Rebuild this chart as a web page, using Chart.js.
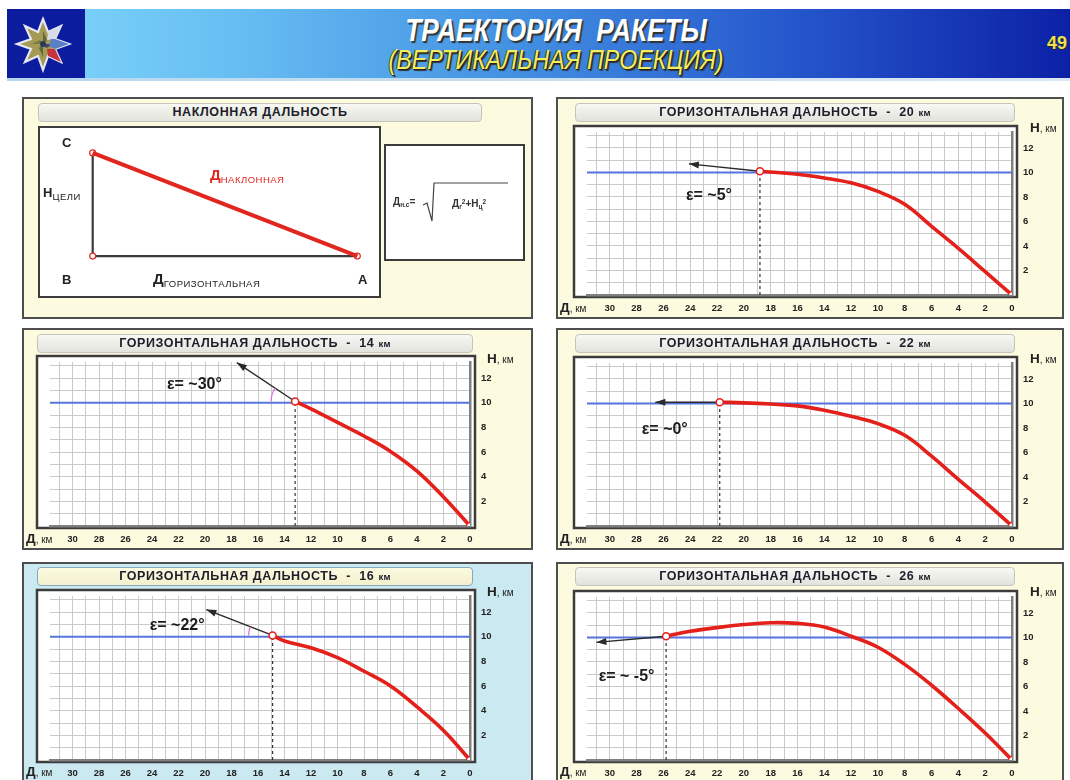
<!DOCTYPE html>
<html lang="ru">
<head>
<meta charset="utf-8">
<title>Траектория ракеты</title>
<script src="https://cdn.jsdelivr.net/npm/chart.js@4.4.1/dist/chart.umd.min.js"></script>
<style>
  body { margin: 0; background: #fff; font-family: 'Liberation Sans', Arial, sans-serif; }
  #page { position: relative; width: 1070px; height: 780px; overflow: hidden; background: #fff; }
  .abs { position: absolute; }
  #hdr { left: 7px; top: 9px; width: 1063px; height: 69px;
         background: linear-gradient(90deg, #80d8fb 0%, #66bdf2 22%, #4390e2 48%, #2556cc 74%, #0c21a6 100%); }
  #emb { left: 7px; top: 9px; width: 78px; height: 69px; background: #0b1d9e; }
  #hline { left: 7px; top: 78px; width: 1063px; height: 3px; background: linear-gradient(90deg, #b6d6ee, #dbe7f2); }
  .t1 { left: 0; width: 1112px; top: 12px; text-align: center; color: #fff; font-weight: bold; font-style: italic;
        font-size: 32px; line-height: 36px; text-shadow: 2px 2px 1px #333; transform: scaleX(0.82); transform-origin: 556px 0; }
  .t2 { left: 0; width: 1112px; top: 44px; text-align: center; color: #f4ee5c; font-style: italic;
        font-size: 27px; line-height: 32px; text-shadow: 1px 1px 0 #222, 2px 2px 1px #333, -1px 0 0 #444;
        transform: scaleX(0.86); transform-origin: 556px 0; }
  .num { left: 1040px; top: 33px; width: 27px; text-align: right; color: #f0e24a; font-weight: bold; font-size: 18px;
         text-shadow: 1px 1px 0 #222; }
  .panel { position: absolute; box-sizing: border-box; border: 2px solid #4e4e4e; background: #fdfbdf; }
  .panel.blue { background: #cbe9f0; }
  .panel canvas { position: absolute; left: 0; top: 0; }
  .ttl { position: absolute; height: 19px; box-sizing: border-box; border: 1px solid #c4c4bc; border-radius: 4px;
         background: linear-gradient(#f8f8f4, #e3e3dd); font-weight: bold; font-size: 12.5px; letter-spacing: 0.6px;
         line-height: 17px; text-align: center; color: #1d1d2b; white-space: nowrap; }
  .blue .ttl { background: linear-gradient(#fcfae0, #f3f0cc); border-color: #86a8c0; }
  .ttl small { font-size: 9.5px; letter-spacing: 0.3px; }
  .ax { position: absolute; font-size: 10px; color: #222; white-space: nowrap; line-height: 14px; }
  .ax b { font-size: 13.5px; }
  .box { position: absolute; box-sizing: border-box; border: 2px solid #3c3c3c; background: #fff; }
  .lbl { position: absolute; font-weight: bold; font-size: 13px; color: #222; white-space: nowrap; line-height: 14px; }
  .lbl sub { font-size: 9.5px; letter-spacing: 0.5px; font-weight: normal; vertical-align: -3px; }
  .fml { position: absolute; font-size: 10px; font-weight: bold; color: #333; white-space: nowrap; line-height: 10px; }
  .fml sub { font-size: 6.5px; vertical-align: -2px; }
  .fml sup { font-size: 6.5px; vertical-align: 3px; }
</style>
</head>
<body>
<div id="page">
  <div id="hdr" class="abs"></div>
  <div id="emb" class="abs">
    <svg width="78" height="69" viewBox="0 0 78 69">
      <polygon points="36,10 41,23 54,17 48,30 62,35 48,40 54,53 41,47 36,61 31,47 18,53 24,40 10,35 24,30 18,17 31,23"
               fill="#a49a55" stroke="#e4e6f0" stroke-width="2.2"/>
      <polygon points="36,22 40,31 36,35" fill="#5f6a3a"/>
      <polygon points="36,48 32,39 36,35" fill="#5f6a3a"/>
      <polygon points="24,35 33,31 36,35" fill="#7d7a45"/>
      <polygon points="48,35 39,39 36,35" fill="#3f4a6a"/>
      <polygon points="41,23 54,17 48,30 40,31" fill="#d8dce6"/>
      <polygon points="44,30 48,30 62,35 48,40 42,37" fill="#5b7fc4"/>
      <polygon points="48,40 54,53 41,47 40,40" fill="#c8323a"/>
      <circle cx="36" cy="35" r="3" fill="#2c3a5a"/>
    </svg>
  </div>
  <div id="hline" class="abs"></div>
  <div class="abs t1">ТРАЕКТОРИЯ&nbsp; РАКЕТЫ</div>
  <div class="abs t2">(ВЕРТИКАЛЬНАЯ ПРОЕКЦИЯ)</div>
  <div class="abs num">49</div>

  <!-- наклонная дальность -->
  <div class="panel" style="left:22px;top:97px;width:511px;height:222px;">
    <div class="ttl" style="left:14px;top:4px;width:444px;">НАКЛОННАЯ ДАЛЬНОСТЬ</div>
    <div class="box" style="left:14px;top:27px;width:343px;height:172px;">
      <canvas id="cTri" width="339" height="168"></canvas>
    </div>
    <div class="lbl" style="left:38px;top:37px;">C</div>
    <div class="lbl" style="left:38px;top:174px;">B</div>
    <div class="lbl" style="left:334px;top:174px;">A</div>
    <div class="lbl" style="left:19px;top:87px;">H<sub>ЦЕЛИ</sub></div>
    <div class="lbl" style="left:186px;top:69px;color:#e0261e;font-size:15px;">Д<sub style="color:#e0261e;">НАКЛОННАЯ</sub></div>
    <div class="lbl" style="left:129px;top:173px;font-size:15px;">Д<sub>ГОРИЗОНТАЛЬНАЯ</sub></div>
    <div class="box" style="left:360px;top:45px;width:141px;height:117px;">
      <div class="fml" style="left:7px;top:51px;">Д<sub>н.с</sub>=</div>
      <svg class="abs" style="left:0;top:0;" width="137" height="113">
        <polyline points="37,59 41,57 46,75 48,37 122,37" fill="none" stroke="#444" stroke-width="1.2"/>
      </svg>
      <div class="fml" style="left:66px;top:51px;">Д<sub>г</sub><sup>2</sup>+Н<sub>ц</sub><sup>2</sup></div>
    </div>
  </div>

  <div class="panel" style="left:556px;top:97px;width:508px;height:222px;">
    <canvas id="c20" width="504" height="218"></canvas>
    <div class="ttl" style="left:17px;top:4px;width:440px;">ГОРИЗОНТАЛЬНАЯ ДАЛЬНОСТЬ &nbsp;-&nbsp; 20 <small>км</small></div>
    <div class="ax" style="left:472px;top:22px;"><b>H</b>, км</div>
    <div class="ax" style="left:2px;top:202px;"><b>Д</b>, км</div>
  </div>

  <div class="panel" style="left:22px;top:328px;width:511px;height:222px;">
    <canvas id="c14" width="507" height="218"></canvas>
    <div class="ttl" style="left:13px;top:4px;width:436px;">ГОРИЗОНТАЛЬНАЯ ДАЛЬНОСТЬ &nbsp;-&nbsp; 14 <small>км</small></div>
    <div class="ax" style="left:463px;top:22px;"><b>H</b>, км</div>
    <div class="ax" style="left:2px;top:202px;"><b>Д</b>, км</div>
  </div>

  <div class="panel" style="left:556px;top:328px;width:508px;height:222px;">
    <canvas id="c22" width="504" height="218"></canvas>
    <div class="ttl" style="left:17px;top:4px;width:440px;">ГОРИЗОНТАЛЬНАЯ ДАЛЬНОСТЬ &nbsp;-&nbsp; 22 <small>км</small></div>
    <div class="ax" style="left:472px;top:22px;"><b>H</b>, км</div>
    <div class="ax" style="left:2px;top:202px;"><b>Д</b>, км</div>
  </div>

  <div class="panel blue" style="left:22px;top:562px;width:511px;height:222px;">
    <canvas id="c16" width="507" height="218"></canvas>
    <div class="ttl" style="left:13px;top:3px;width:436px;">ГОРИЗОНТАЛЬНАЯ ДАЛЬНОСТЬ &nbsp;-&nbsp; 16 <small>км</small></div>
    <div class="ax" style="left:463px;top:21px;"><b>H</b>, км</div>
    <div class="ax" style="left:2px;top:201px;"><b>Д</b>, км</div>
  </div>

  <div class="panel" style="left:556px;top:562px;width:508px;height:222px;">
    <canvas id="c26" width="504" height="218"></canvas>
    <div class="ttl" style="left:17px;top:3px;width:440px;">ГОРИЗОНТАЛЬНАЯ ДАЛЬНОСТЬ &nbsp;-&nbsp; 26 <small>км</small></div>
    <div class="ax" style="left:472px;top:21px;"><b>H</b>, км</div>
    <div class="ax" style="left:2px;top:201px;"><b>Д</b>, км</div>
  </div>
</div>

<script>
// подписи осей
const xTickLabels = [30, 28, 26, 24, 22, 20, 18, 16, 14, 12, 10, 8, 6, 4, 2, 0];
const yTickLabels = [2, 4, 6, 8, 10, 12];
const targetHeight = 10;   // высота цели, км

// треугольник: C, B, A
const vertexX = [0, 0, 1];
const vertexY = [1, 0, 0];

// траектории: дальность (км) и высота (км)
const dist20 = [18.8, 16, 14, 12, 10, 8, 6, 4, 2, 0];
const height20 = [10.1, 9.85, 9.55, 9.15, 8.45, 7.4, 5.6, 3.8, 1.9, 0];
const arrow20 = [24.1, 10.7];
const note20 = [22.6, 8.1];

const dist14 = [13.2, 12, 10, 8, 6, 4, 2, 0];
const height14 = [10.1, 9.5, 8.4, 7.3, 6.05, 4.45, 2.35, 0];
const arrow14 = [17.6, 13.25];
const note14 = [20.8, 11.45];

const dist22 = [21.8, 20, 18, 16, 14, 12, 10, 8, 6, 4, 2, 0];
const height22 = [10.1, 10.05, 9.95, 9.8, 9.45, 8.95, 8.35, 7.4, 5.7, 3.8, 1.95, 0];
const arrow22 = [26.6, 10.1];
const note22 = [25.9, 7.9];

const dist16 = [14.9, 14, 12, 10, 8, 6, 4, 2, 0];
const height16 = [10.1, 9.65, 9.1, 8.3, 7.2, 6.0, 4.3, 2.4, 0];
const arrow16 = [19.9, 12.2];
const note16 = [22.1, 10.9];

const dist26 = [25.8, 24, 22, 20, 18, 16, 14, 12, 10, 8, 6, 4, 2, 0];
const height26 = [10.1, 10.5, 10.8, 11.05, 11.2, 11.15, 10.85, 10.1, 9.2, 7.8, 6.1, 4.2, 2.2, 0];
const arrow26 = [31.0, 9.6];
const note26 = [28.75, 6.8];

const xMax = 31.7;
const yMax = 13.3;
const FONT = "'Liberation Sans', Arial, sans-serif";

const leftGeo = { w: 511, h: 222, gridL: 28, gridR: 448, gridT: 34, gridB: 198 };
const rightGeo = { w: 508, h: 222, gridL: 31, gridR: 456, gridT: 35, gridB: 198 };

// рамка вокруг сетки
const framePlugin = {
    id: 'frame',
    beforeDraw(chart) {
        const { ctx, chartArea: a } = chart;
        const l = a.left - 13, t = a.top - 6, r = a.right + 5, b = a.bottom + 2;
        ctx.save();
        ctx.fillStyle = '#fff';
        ctx.fillRect(l, t, r - l, b - t);
        ctx.lineWidth = 2.5;
        ctx.strokeStyle = '#3c3c3c';
        ctx.strokeRect(l, t, r - l, b - t);
        ctx.restore();
    }
};

// стрелка, угол и подпись
const notePlugin = {
    id: 'note',
    afterDatasetsDraw(chart, args, o) {
        const { ctx, scales } = chart;
        const px = v => scales.x.getPixelForValue(v);
        const py = v => scales.y.getPixelForValue(v);
        const x0 = px(o.start[0]), y0 = py(o.start[1]);
        const x1 = px(o.arrow[0]), y1 = py(o.arrow[1]);
        const ang = Math.atan2(y1 - y0, x1 - x0);
        ctx.save();
        ctx.fillStyle = '#2a2a2a';
        ctx.beginPath();
        ctx.moveTo(x1, y1);
        ctx.lineTo(x1 - 10 * Math.cos(ang) + 3.5 * Math.sin(ang), y1 - 10 * Math.sin(ang) - 3.5 * Math.cos(ang));
        ctx.lineTo(x1 - 10 * Math.cos(ang) - 3.5 * Math.sin(ang), y1 - 10 * Math.sin(ang) + 3.5 * Math.cos(ang));
        ctx.closePath();
        ctx.fill();
        if (o.arc) {
            ctx.strokeStyle = '#e070e0';
            ctx.lineWidth = 1.2;
            ctx.beginPath();
            ctx.arc(x0, y0, 24, -Math.PI, ang);
            ctx.stroke();
        }
        ctx.font = 'bold 16px ' + FONT;
        ctx.fillStyle = '#1c1c1c';
        ctx.textAlign = 'center';
        ctx.textBaseline = 'middle';
        ctx.fillText(o.text, px(o.note[0]), py(o.note[1]));
        ctx.restore();
    }
};

// сетка только по целым километрам
const gridColor = c => (c.tick && Number.isInteger(c.tick.value)) ? '#cacaca' : 'rgba(0,0,0,0)';

function trajectoryChart(id, geo, dist, height, arrow, note, text, arc) {
    const n = dist.length;
    const start = { x: dist[0], y: height[0] };
    const grid = { color: gridColor, lineWidth: 1, drawTicks: false };
    const border = { color: '#808080', width: 2.5 };
    const tickFont = { family: FONT, size: 9.5, weight: 'bold' };
    new Chart(document.getElementById(id), {
        type: 'line',
        data: {
            datasets: [{
                data: dist.map((d, i) => ({ x: d, y: height[i] })),
                borderColor: '#e4201a',
                borderWidth: 3.6,
                tension: 0.4,
                pointRadius: dist.map((d, i) => (i === 0 || i === n - 1) ? 3.5 : 0),
                pointBackgroundColor: '#fff',
                pointBorderColor: '#e4201a',
                pointBorderWidth: 1.5
            }, {
                data: [start, { x: arrow[0], y: arrow[1] }],
                borderColor: '#2a2a2a',
                borderWidth: 1.4,
                pointRadius: 0
            }, {
                data: [{ x: start.x, y: 0 }, start],
                borderColor: '#333',
                borderWidth: 1.2,
                borderDash: [3, 3],
                pointRadius: 0
            }, {
                data: [{ x: 0, y: targetHeight }, { x: xMax, y: targetHeight }],
                borderColor: '#5675dc',
                borderWidth: 2,
                pointRadius: 0
            }]
        },
        options: {
            responsive: false,
            animation: false,
            layout: { padding: { left: geo.gridL - 2, top: geo.gridT - 2, right: 0, bottom: 0 } },
            plugins: {
                legend: { display: false },
                tooltip: { enabled: false },
                note: { start: [start.x, start.y], arrow: arrow, note: note, text: text, arc: arc }
            },
            scales: {
                x: {
                    type: 'linear', reverse: true, min: 0, max: xMax,
                    afterFit: s => { s.height = geo.h - 2 - geo.gridB; },
                    grid: grid, border: border,
                    ticks: {
                        stepSize: 1, autoSkip: false, includeBounds: false, maxRotation: 0, padding: 8,
                        color: '#222', font: tickFont,
                        callback: v => xTickLabels.includes(v) ? v : ''
                    }
                },
                y: {
                    type: 'linear', position: 'right', min: 0, max: yMax,
                    afterFit: s => { s.width = geo.w - 2 - geo.gridR; },
                    grid: grid, border: border,
                    ticks: {
                        stepSize: 1, autoSkip: false, includeBounds: false, padding: 11,
                        color: '#222', font: tickFont,
                        callback: v => yTickLabels.includes(v) ? v : ''
                    }
                }
            }
        },
        plugins: [framePlugin, notePlugin]
    });
}

document.addEventListener('DOMContentLoaded', function() {
    // Треугольник наклонной дальности
    const pts = vertexX.map((x, i) => ({ x: x, y: vertexY[i] }));
    new Chart(document.getElementById('cTri'), {
        type: 'scatter',
        data: {
            datasets: [{
                data: [pts[0], pts[2]],
                showLine: true,
                borderColor: '#e0261e',
                borderWidth: 4,
                pointRadius: 0
            }, {
                data: pts,
                showLine: true,
                borderColor: '#3a3a3a',
                borderWidth: 2.2,
                pointRadius: 3,
                pointBackgroundColor: '#fff',
                pointBorderColor: '#e0261e',
                pointBorderWidth: 1.2
            }]
        },
        options: {
            responsive: false,
            animation: false,
            layout: { padding: 0 },
            plugins: { legend: { display: false }, tooltip: { enabled: false } },
            scales: {
                x: { display: false, min: -0.1795, max: 1.0623 },
                y: { display: false, min: -0.3364, max: 1.1909 }
            }
        }
    });

    trajectoryChart('c20', rightGeo, dist20, height20, arrow20, note20, 'ε= ~5°', false);
    trajectoryChart('c14', leftGeo, dist14, height14, arrow14, note14, 'ε= ~30°', true);
    trajectoryChart('c22', rightGeo, dist22, height22, arrow22, note22, 'ε= ~0°', false);
    trajectoryChart('c16', leftGeo, dist16, height16, arrow16, note16, 'ε= ~22°', true);
    trajectoryChart('c26', rightGeo, dist26, height26, arrow26, note26, 'ε= ~ -5°', false);
});
</script>
</body>
</html>
